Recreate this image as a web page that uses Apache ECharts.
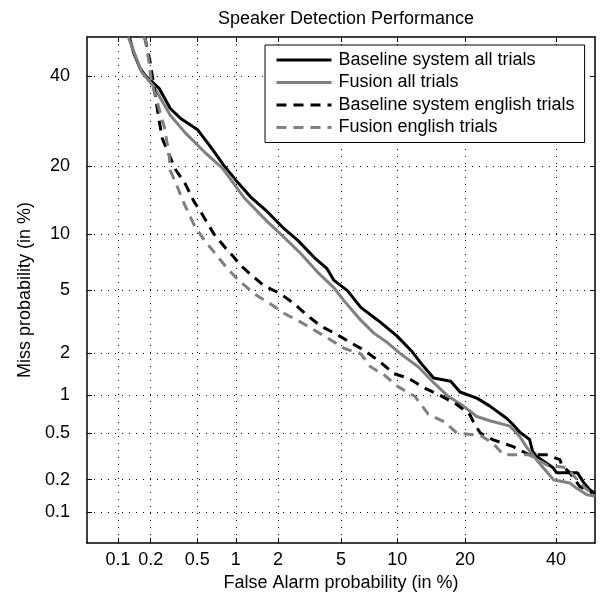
<!DOCTYPE html>
<html>
<head>
<meta charset="utf-8">
<script src="https://cdn.jsdelivr.net/npm/echarts@6/dist/echarts.min.js"></script>
<style>html,body{margin:0;padding:0;background:#fff}#c{width:602px;height:597px}</style>
</head>
<body>
<div id="c"></div>
<script>
// ---- data (percent) ----
const tickPct = [0.1, 0.2, 0.5, 1, 2, 5, 10, 20, 40];
const tickLabels = ['0.1', '0.2', '0.5', '1', '2', '5', '10', '20', '40'];
const axisMinPct = 0.05, axisMaxPct = 50;
const seriesNames = ['Baseline system all trials', 'Fusion all trials', 'Baseline system english trials', 'Fusion english trials'];

const baseAllFA   = [0.128, 0.14, 0.16, 0.18, 0.238, 0.297, 0.364, 0.5, 0.65, 0.81, 1.0, 1.3, 1.69, 2.21, 2.71, 3.44, 4.13, 4.53, 5.44, 6.46, 7.97, 10.0, 11.7, 13.0, 14.8, 17.5, 19.1, 22.3, 24.8, 28.4, 29.7, 31.3, 33.6, 34.3, 35.3, 39.3, 40.2, 45.5, 47.0, 48.5, 50];
const baseAllMiss = [50, 46, 42, 40, 36.9, 32.1, 29.8, 27.4, 23.5, 20.2, 17.6, 14.8, 12.8, 10.6, 9.3, 7.6, 6.6, 5.7, 4.96, 3.94, 3.28, 2.59, 2.07, 1.69, 1.33, 1.26, 1.05, 0.94, 0.82, 0.656, 0.59, 0.51, 0.443, 0.353, 0.32, 0.255, 0.23, 0.23, 0.19, 0.164, 0.15];

const fusAllFA   = [0.125, 0.166, 0.213, 0.298, 0.4, 0.59, 0.79, 1.15, 1.69, 2.21, 2.83, 3.6, 4.53, 5.18, 6.46, 7.6, 8.96, 10.4, 12.6, 14.8, 16.9, 19.7, 22.2, 24.8, 29.1, 31.3, 32.8, 35.2, 39.4, 43.5, 45.3, 47.9, 50];
const fusAllMiss = [50, 41, 37.4, 30.5, 26.6, 22.4, 19.7, 14.8, 11.5, 9.6, 7.96, 6.34, 5.16, 4.34, 3.28, 2.71, 2.34, 1.97, 1.6, 1.23, 0.99, 0.82, 0.68, 0.63, 0.57, 0.47, 0.387, 0.3, 0.2, 0.187, 0.167, 0.146, 0.142];

const baseEngFA   = [0.177, 0.199, 0.22, 0.236, 0.253, 0.29, 0.33, 0.40, 0.468, 0.55, 0.68, 0.82, 0.96, 1.09, 1.3, 1.6, 2.09, 2.58, 3.1, 3.77, 4.74, 5.7, 6.72, 8.3, 9.62, 11.3, 13.5, 15.8, 18.6, 20.9, 21.6, 22.9, 25.5, 29.8, 33.5, 37.7, 41.0, 41.4, 43.5, 46.0, 47.7, 49.4];
const baseEngMiss = [50, 43.2, 35.1, 29.8, 25.5, 22.2, 19.4, 16.9, 14.3, 12.4, 10.0, 8.63, 7.65, 6.86, 6.09, 5.3, 4.74, 4.13, 3.53, 3.02, 2.65, 2.34, 2.09, 1.71, 1.43, 1.33, 1.12, 0.99, 0.84, 0.7, 0.61, 0.5, 0.44, 0.387, 0.33, 0.33, 0.3, 0.273, 0.23, 0.175, 0.163, 0.152];

const fusEngFA   = [0.173, 0.18, 0.193, 0.203, 0.22, 0.265, 0.29, 0.298, 0.343, 0.39, 0.47, 0.57, 0.68, 0.85, 1.02, 1.37, 1.78, 2.21, 2.83, 3.44, 4.13, 5.18, 6.46, 7.3, 8.6, 10.0, 12.2, 14.0, 16.4, 18.6, 22.9, 25.5, 27.7, 33.5, 37.7, 42.7, 46.0, 49.4];
const fusEngMiss = [50, 49, 43.6, 38.5, 35.2, 27.7, 22.2, 19.2, 16.4, 13.9, 11.1, 9.3, 8.1, 6.7, 5.8, 4.74, 4.13, 3.61, 3.19, 2.84, 2.53, 2.15, 1.97, 1.6, 1.4, 1.16, 0.97, 0.71, 0.62, 0.5, 0.48, 0.41, 0.33, 0.33, 0.27, 0.255, 0.19, 0.145];

// ---- inverse normal CDF (Acklam) ----
function probit(pct) {
  const p = pct / 100;
  const a = [-3.969683028665376e+01, 2.209460984245205e+02, -2.759285104469687e+02, 1.383577518672690e+02, -3.066479806614716e+01, 2.506628277459239e+00];
  const b = [-5.447609879822406e+01, 1.615858368580409e+02, -1.556989798598866e+02, 6.680131188771972e+01, -1.328068155288572e+01];
  const c = [-7.784894002430293e-03, -3.223964580411365e-01, -2.400758277161838e+00, -2.549732539343734e+00, 4.374664141464968e+00, 2.938163982698783e+00];
  const d = [7.784695709041462e-03, 3.224671290700398e-01, 2.445134137142996e+00, 3.754408661907416e+00];
  const pl = 0.02425, ph = 1 - pl;
  let q, r;
  if (p < pl) {
    q = Math.sqrt(-2 * Math.log(p));
    return (((((c[0]*q+c[1])*q+c[2])*q+c[3])*q+c[4])*q+c[5]) / ((((d[0]*q+d[1])*q+d[2])*q+d[3])*q+1);
  } else if (p <= ph) {
    q = p - 0.5; r = q * q;
    return (((((a[0]*r+a[1])*r+a[2])*r+a[3])*r+a[4])*r+a[5])*q / (((((b[0]*r+b[1])*r+b[2])*r+b[3])*r+b[4])*r+1);
  } else {
    q = Math.sqrt(-2 * Math.log(1 - p));
    return -(((((c[0]*q+c[1])*q+c[2])*q+c[3])*q+c[4])*q+c[5]) / ((((d[0]*q+d[1])*q+d[2])*q+d[3])*q+1);
  }
}

const tickZ = tickPct.map(probit);
const zMin = probit(axisMinPct), zMax = probit(axisMaxPct);
function fmt(v) {
  for (let i = 0; i < tickZ.length; i++) if (Math.abs(tickZ[i] - v) < 1e-6) return tickLabels[i];
  return '';
}
function toPts(fa, miss) { return fa.map((f, i) => [probit(f), probit(miss[i])]); }

const FONT = 'Liberation Sans';
const FS = 18;
const grid = { left: 87, right: 7, top: 37, bottom: 50 };
const dotted = { color: '#000', width: 1, type: [1, 6] };

function mainAxis(pos, name, nameGap) {
  return {
    type: 'value', position: pos, min: zMin, max: zMax,
    name: name, nameLocation: 'middle', nameGap: nameGap,
    nameTextStyle: { fontFamily: FONT, fontSize: FS, color: '#000' },
    axisLine: { show: true, onZero: false, lineStyle: { color: '#000', width: 1.5 } },
    axisTick: { show: true, inside: true, length: 5, customValues: tickZ, lineStyle: { color: '#000', width: 1 } },
    axisLabel: { show: true, customValues: tickZ, formatter: fmt, fontFamily: FONT, fontSize: FS, color: '#000', margin: pos === 'bottom' ? 8 : 17 },
    splitLine: { show: true, lineStyle: dotted },
    minorTick: { show: false }, minorSplitLine: { show: false }
  };
}
function boxAxis(pos) {
  return {
    type: 'value', position: pos, min: zMin, max: zMax,
    axisLine: { show: true, onZero: false, lineStyle: { color: '#000', width: 1.5 } },
    axisTick: { show: true, inside: true, length: 5, customValues: tickZ, lineStyle: { color: '#000', width: 1 } },
    axisLabel: { show: false },
    splitLine: { show: false }
  };
}

const colors = ['#000000', '#808080', '#000000', '#808080'];
const types = ['solid', 'solid', [10, 7], [10, 7]];
const dataSets = [toPts(baseAllFA, baseAllMiss), toPts(fusAllFA, fusAllMiss), toPts(baseEngFA, baseEngMiss), toPts(fusEngFA, fusEngMiss)];

const chart = echarts.init(document.getElementById('c'), null, { renderer: 'canvas' });
chart.setOption({
  animation: false,
  backgroundColor: '#fff',
  title: {
    text: 'Speaker Detection Performance', left: 341, top: 5, textAlign: 'center',
    textStyle: { fontFamily: FONT, fontSize: FS, fontWeight: 'normal', color: '#000' }
  },
  grid: grid,
  xAxis: [mainAxis('bottom', 'False Alarm probability (in %)', 24), boxAxis('top')],
  yAxis: [mainAxis('left', 'Miss probability (in %)', 53), boxAxis('right')],
  legend: {
    left: 265, top: 45, orient: 'vertical',
    itemWidth: 55, itemHeight: 14, itemGap: 4.5,
    padding: [6, 10, 6, 10],
    borderColor: '#000', borderWidth: 1, backgroundColor: '#fff',
    itemStyle: { opacity: 0, borderWidth: 0 },
    lineStyle: { width: 3 },
    textStyle: { fontFamily: FONT, fontSize: FS, color: '#000', padding: [0, 0, 0, 2] },
    data: seriesNames
  },
  series: dataSets.map((d, i) => ({
    name: seriesNames[i], type: 'line', data: d, showSymbol: false, symbol: 'none',
    xAxisIndex: 0, yAxisIndex: 0,
    lineStyle: { color: colors[i], width: 3, type: types[i] },
    itemStyle: { color: colors[i] },
    clip: true
  }))
});
</script>
</body>
</html>
